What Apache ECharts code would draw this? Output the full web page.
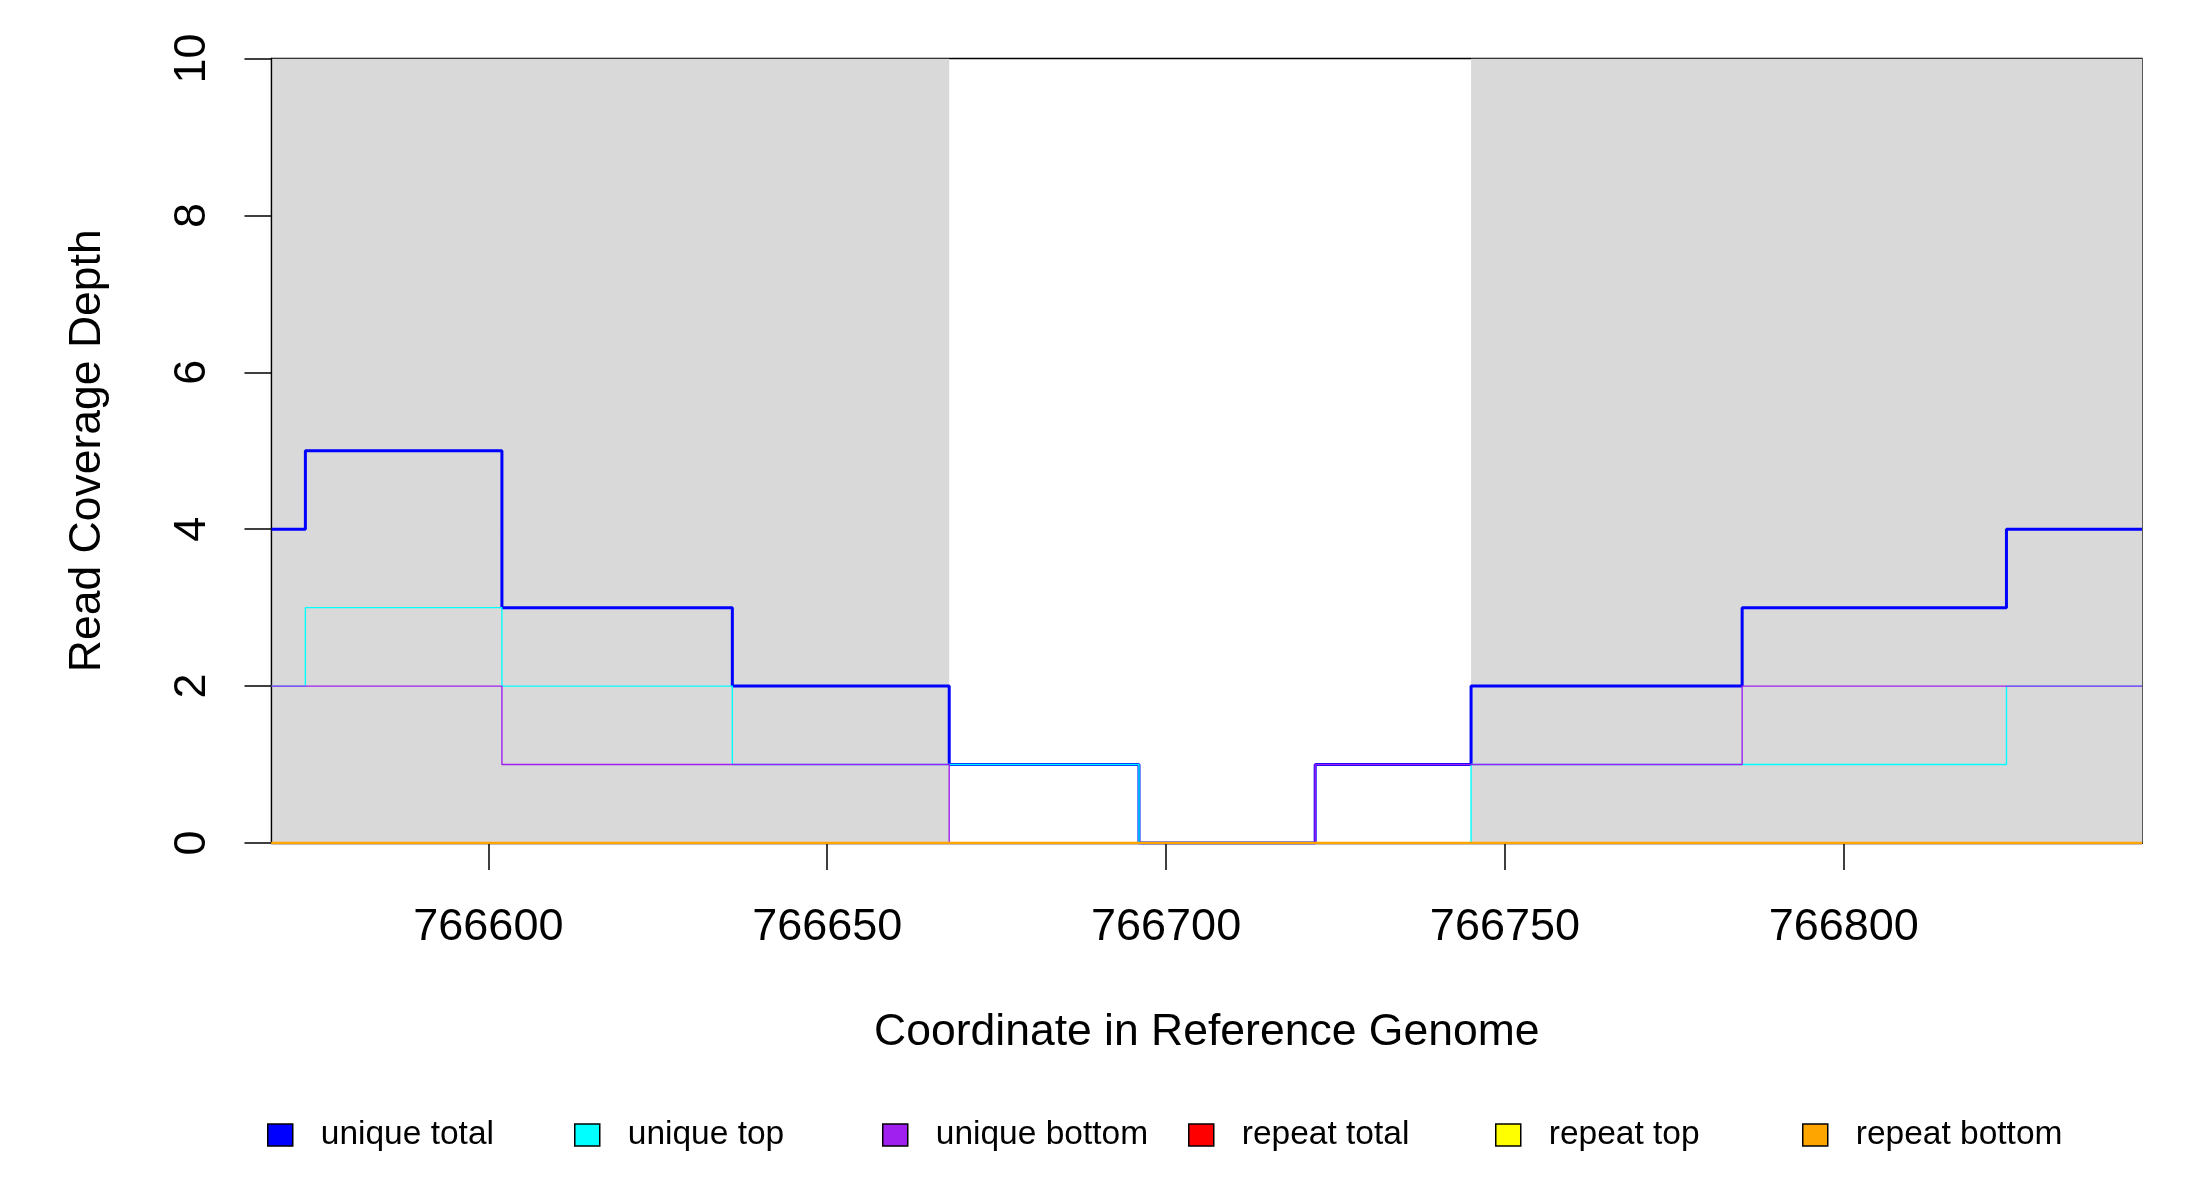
<!DOCTYPE html>
<html>
<head>
<meta charset="utf-8">
<script src="https://cdn.jsdelivr.net/npm/echarts@6/dist/echarts.min.js"></script>
<style>
  html, body { margin: 0; padding: 0; background: #fff; }
  #chart { width: 2200px; height: 1200px; }
</style>
</head>
<body>
<div id="chart"></div>
<script>
// breakpoints along the genome, last one is the end of the window
const positions = [766568, 766573, 766602, 766636, 766668, 766696, 766722, 766745, 766785, 766824, 766844];

// coverage per interval between breakpoints
const uniqueTotal  = [4, 5, 3, 2, 1, 0, 1, 2, 3, 4];
const uniqueTop    = [2, 3, 2, 1, 1, 0, 0, 1, 1, 2];
const uniqueBottom = [2, 2, 1, 1, 0, 0, 1, 1, 2, 2];
const repeatTotal  = [0, 0, 0, 0, 0, 0, 0, 0, 0, 0];
const repeatTop    = [0, 0, 0, 0, 0, 0, 0, 0, 0, 0];
const repeatBottom = [0, 0, 0, 0, 0, 0, 0, 0, 0, 0];

// shaded (exon) regions
const exonRegions = [[766568, 766668], [766745, 766844]];

const xTicks = [766600, 766650, 766700, 766750, 766800];
const yTicks = [0, 2, 4, 6, 8, 10];

const legendNames = ['unique total', 'unique top', 'unique bottom', 'repeat total', 'repeat top', 'repeat bottom'];
const legendColors = ['#0000FF', '#00FFFF', '#A020F0', '#FF0000', '#FFFF00', '#FFA500'];
const legendLeft = [267, 574, 882, 1188, 1495, 1802];

const FONT = 'Liberation Sans, Arial, sans-serif';

function stepData(vals) {
  const d = vals.map((v, i) => [positions[i], v]);
  d.push([positions[positions.length - 1], vals[vals.length - 1]]);
  return d;
}

function stepSeries(name, vals, color, width) {
  return {
    name: name,
    type: 'line',
    step: 'end',
    showSymbol: false,
    z: 3,
    data: stepData(vals),
    lineStyle: { color: color, width: width },
    itemStyle: { color: color }
  };
}

const chart = echarts.init(document.getElementById('chart'));

chart.setOption({
  animation: false,
  textStyle: { fontFamily: FONT },
  grid: {
    left: 271.5, right: 58, top: 58.5, bottom: 357,
    show: true, borderColor: '#000', borderWidth: 1.3, backgroundColor: 'transparent'
  },
  legend: legendNames.map((n, i) => ({
    left: legendLeft[i],
    top: 1118,
    padding: 0,
    itemWidth: 25,
    itemHeight: 22,
    selectedMode: false,
    textStyle: { fontSize: 33.5, color: '#000', fontFamily: FONT, padding: [0, 0, 0, 23] },
    data: [{
      name: n,
      icon: 'rect',
      itemStyle: { color: legendColors[i], borderColor: '#000', borderWidth: 1.5 }
    }]
  })),
  xAxis: {
    type: 'value',
    min: positions[0],
    max: positions[positions.length - 1],
    z: 2,
    name: 'Coordinate in Reference Genome',
    nameLocation: 'middle',
    nameGap: 167,
    nameTextStyle: { fontSize: 44.5, color: '#000', fontFamily: FONT },
    splitLine: { show: false },
    axisLine: { show: true, lineStyle: { color: '#000', width: 1.3 } },
    axisTick: { show: true, length: 27, customValues: xTicks, lineStyle: { color: '#000', width: 1.5 } },
    axisLabel: { customValues: xTicks, margin: 62, fontSize: 45, color: '#000', fontFamily: FONT,
      formatter: v => String(v) }
  },
  yAxis: {
    type: 'value',
    min: 0,
    max: 10,
    interval: 2,
    z: 2,
    name: 'Read Coverage Depth',
    nameLocation: 'middle',
    nameRotate: 90,
    nameGap: 161,
    nameTextStyle: { fontSize: 44.5, color: '#000', fontFamily: FONT },
    splitLine: { show: false },
    axisLine: { show: true, lineStyle: { color: '#000', width: 1.3 } },
    axisTick: { show: true, length: 27, customValues: yTicks, lineStyle: { color: '#000', width: 1.5 } },
    axisLabel: { customValues: yTicks, rotate: 90, margin: 56, fontSize: 45, color: '#000', fontFamily: FONT }
  },
  series: [
    {
      type: 'custom',
      z: 1,
      silent: true,
      clip: true,
      data: exonRegions,
      renderItem: function (params, api) {
        const p0 = api.coord([api.value(0), 10]);
        const p1 = api.coord([api.value(1), 0]);
        return {
          type: 'rect',
          shape: { x: p0[0], y: p0[1], width: p1[0] - p0[0], height: p1[1] - p0[1] },
          style: { fill: '#D9D9D9' }
        };
      }
    },
    stepSeries('unique total', uniqueTotal, '#0000FF', 3),
    stepSeries('unique top', uniqueTop, '#00FFFF', 1.4),
    stepSeries('unique bottom', uniqueBottom, '#A020F0', 1.4),
    stepSeries('repeat total', repeatTotal, '#FF0000', 2),
    stepSeries('repeat top', repeatTop, '#FFFF00', 2),
    stepSeries('repeat bottom', repeatBottom, '#FFA500', 2.6)
  ]
});
</script>
</body>
</html>
